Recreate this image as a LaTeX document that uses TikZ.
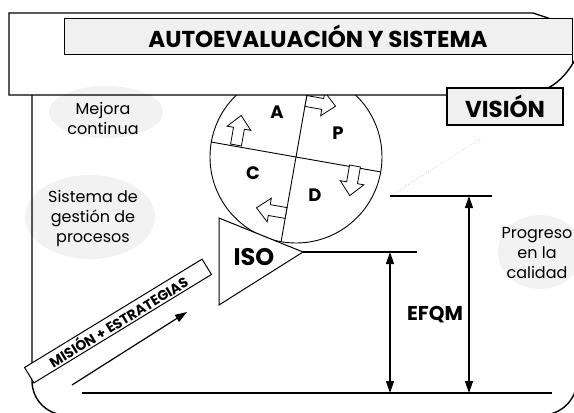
\documentclass[tikz,border=0pt]{standalone}
\usepackage{fontspec}
\setmainfont{Poppins}
\usetikzlibrary{positioning, arrows.meta, calc, shapes.geometric}

\tikzset{
  frame/.style={line width=1.4pt},
  tag/.style={draw, line width=1pt, fill=black!6, inner sep=0pt,
    font=\bfseries\fontsize{23}{23}\selectfont},
  halo/.style={fill=black!5, draw=none},
  phase/.style={font=\bfseries\fontsize{18}{18}\selectfont},
  note/.style={align=center, font=\fontsize{16}{20}\selectfont},
  level/.style={line width=1.6pt},
  blockarrow/.pic={
    \draw[fill=white, line width=0.8pt] (0,-5.5) -- (17,-5.5) -- (17,-12)
      -- (30,0) -- (17,12) -- (17,5.5) -- (0,5.5) -- cycle;
  }
}

\begin{document}
\begin{tikzpicture}[x=1pt, y=-1pt, >={Triangle[length=12pt,width=8pt]}]
    \useasboundingbox (0,0) rectangle (574,413);

    % PDCA wheel
    \coordinate (c) at (296,157);
    \draw[line width=0.9pt] (c) circle[radius=86];
    \draw[line width=0.9pt] (c) +(10:86) -- +(190:86);
    \draw[line width=0.9pt] (c) +(-80:86) -- +(100:86);
    \node[phase] (a) at (277,112) {A};
    \node[phase] (p) at (338,133) {P};
    \node[phase] (ch) at (253,173) {C};
    \node[phase] (d) at (315,195) {D};
    \pic[rotate=80] at (236,145) {blockarrow};
    \pic[rotate=-10] at (306,101) {blockarrow};
    \pic[rotate=-100] at (355,166) {blockarrow};
    \pic[rotate=170] at (286,213) {blockarrow};

    % wedge
    \coordinate (t1) at (219,218);
    \coordinate (t2) at (303,252);
    \coordinate (t3) at (219,305);
    \draw[line width=1pt, fill=white] (t1) -- (t2) -- (t3) -- cycle;
    \node[font=\bfseries\fontsize{24}{24}\selectfont] (iso) at (254,257) {ISO};

    % top frame
    \fill[white] (9,13) rectangle (574,95);
    \node[halo, ellipse, minimum width=114, minimum height=52] (h1) at (106,112) {};
    \node[halo, ellipse, minimum width=130, minimum height=84] (h2) at (90,217) {};
    \node[halo, ellipse, minimum width=84, minimum height=74] (h3) at (540,252) {};
    \draw[frame] (447,95) -- (9,95) -- (9,13) -- (533,13) -- (551,19);
    \draw[frame] (32,95) -- (32,381) arc[start angle=180, end angle=90, radius=34]
      -- (542,415) arc[start angle=90, end angle=0, radius=35] -- (577,95);
    \node[tag, minimum width=508, minimum height=36] (title) at (318,36) {AUTOEVALUACIÓN Y SISTEMA};
    \draw[frame] (title.south east) -- ++(0,10);
    \draw[frame] (577,56) .. controls (570,70) and (560,82) .. (548,88);
    \node[tag, line width=1.4pt, minimum width=116, minimum height=37] (vision) at (505,106.5) {VISIÓN};

    \node[note] (mejora) at (103,118) {Mejora\\continua};
    \node[note] (sistema) at (93,218) {Sistema de\\gestión de\\procesos};
    \node[note] (progreso) at (537,253) {Progreso\\en la\\calidad};

    % levels
    \coordinate (l1) at (82,393);
    \coordinate (l2) at (552,393);
    \coordinate (e1) at (417,252);
    \coordinate (q0) at (390,196);
    \coordinate (q1) at (492,196);
    \coordinate (g) at (483,137);
    \draw[level] (l1) -- (l2);
    \draw[level] (t2) -- (e1);
    \draw[level] (q0) -- (q1);
    \draw[dotted, gray] (q0) -- (g);
    \draw[<->, line width=1.4pt] (390,252) -- (390,393);
    \draw[<->, line width=1.4pt] (469,196) -- (469,393);
    \node[font=\bfseries\fontsize{20}{20}\selectfont] (efqm) at (435,315) {EFQM};

    % mission
    \node[tag, fill=white, rotate=31.4, minimum width=208, minimum height=18,
      font=\bfseries\fontsize{14}{14}\selectfont] (mision) at (118,321) {MISIÓN + ESTRATEGIAS};
    \coordinate (m0) at (72,385);
    \coordinate (m1) at (187,312);
    \draw[->, line width=1.2pt] (m0) -- (m1);
\end{tikzpicture}
\end{document}
